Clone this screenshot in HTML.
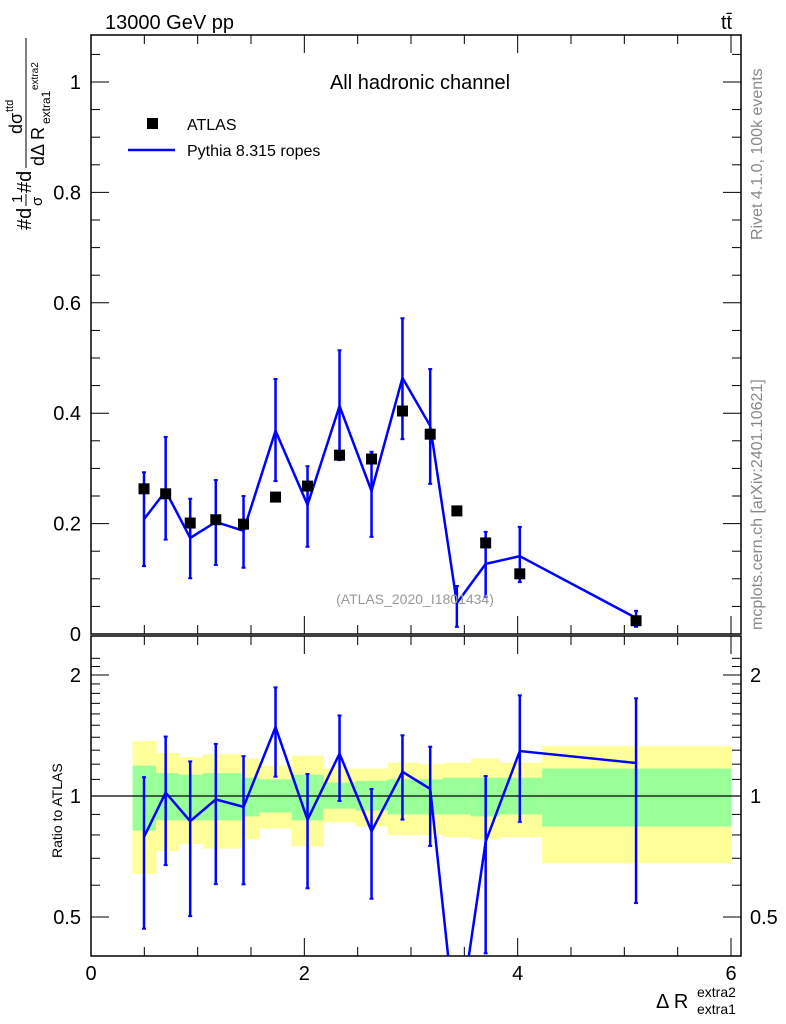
<!DOCTYPE html>
<html><head><meta charset="utf-8"><style>
html,body{margin:0;padding:0;background:#fff;width:786px;height:1024px;overflow:hidden}
svg{display:block}
svg text{font-family:"Liberation Sans",sans-serif}
</style></head><body>
<svg id="chart" width="786" height="1024" xmlns="http://www.w3.org/2000/svg">
<defs>
<clipPath id="cm"><rect x="91" y="35" width="650" height="599"/></clipPath>
<clipPath id="cr"><rect x="91" y="636" width="650" height="320"/></clipPath>
</defs>
<g id="bands" clip-path="url(#cr)"></g>
<g id="axes"></g>
<g id="marks"></g>
<text x="105" y="29" font-size="20">13000 GeV pp</text>
<text x="721" y="29" font-size="20">tt̄</text>
<text x="420" y="89" font-size="20" text-anchor="middle">All hadronic channel</text>
<rect x="147" y="118" width="11" height="11" fill="#000"/>
<text x="187" y="130" font-size="16">ATLAS</text>
<line x1="128" y1="150" x2="175" y2="150" stroke="#00f" stroke-width="2.5"/>
<text x="187" y="156" font-size="16">Pythia 8.315 ropes</text>
<text x="415" y="604" font-size="14" fill="#999" text-anchor="middle">(ATLAS_2020_I1801434)</text>
<text transform="translate(762,240) rotate(-90)" font-size="16" fill="#888">Rivet 4.1.0,  100k events</text>
<text transform="translate(762,630) rotate(-90)" font-size="16" fill="#888">mcplots.cern.ch [arXiv:2401.10621]</text>
<g transform="rotate(-90)">
<text x="-230" y="31" font-size="20">#d</text>
<text x="-203" y="22" font-size="15">1</text>
<line x1="-206" y1="26" x2="-194" y2="26" stroke="#000" stroke-width="1"/>
<text x="-206" y="42" font-size="15">σ</text>
<text x="-193" y="31" font-size="20">#d</text>
<line x1="-168" y1="26" x2="-38" y2="26" stroke="#000" stroke-width="1"/>
<text x="-134" y="22" font-size="18">dσ</text>
<text x="-112" y="13" font-size="11">ttd</text>
<text x="-166" y="44" font-size="18">dΔ R</text>
<text x="-124" y="50" font-size="12">extra1</text>
<text x="-90" y="38" font-size="10">extra2</text>
</g>
<text transform="translate(62,858) rotate(-90)" font-size="14">Ratio to ATLAS</text>
<text x="656" y="1008" font-size="20">Δ R</text>
<text x="697" y="997" font-size="14">extra2</text>
<text x="697" y="1014" font-size="14">extra1</text>
</svg>
<script>
const xs=[0.497,0.70,0.93,1.17,1.43,1.73,2.03,2.33,2.63,2.92,3.18,3.43,3.70,4.02,5.11];
const atlas=[0.263,0.254,0.201,0.207,0.199,0.248,0.268,0.324,0.317,0.404,0.362,0.223,0.165,0.109,0.024];
const mc=[0.208,0.259,0.174,0.203,0.187,0.368,0.234,0.413,0.259,0.464,0.377,0.056,0.127,0.141,0.029];
const mcHi=[0.293,0.357,0.245,0.279,0.25,0.462,0.304,0.514,0.33,0.572,0.48,0.087,0.185,0.194,0.042];
const mcLo=[0.123,0.171,0.101,0.125,0.12,0.277,0.158,0.315,0.176,0.353,0.272,0.013,0.067,0.094,0.013];
const edges=[0.39,0.61,0.82,1.05,1.41,1.58,1.88,2.18,2.48,2.78,3.08,3.30,3.56,3.83,4.23,6.0];
const yelHi=[1.37,1.28,1.25,1.27,1.24,1.19,1.26,1.17,1.17,1.21,1.20,1.21,1.24,1.21,1.33];
const yelLo=[0.64,0.73,0.76,0.74,0.78,0.83,0.75,0.86,0.84,0.80,0.80,0.79,0.78,0.79,0.68];
const grnHi=[1.19,1.14,1.13,1.14,1.11,1.10,1.13,1.08,1.09,1.10,1.10,1.11,1.11,1.11,1.17];
const grnLo=[0.82,0.87,0.87,0.87,0.89,0.91,0.87,0.93,0.92,0.90,0.90,0.90,0.89,0.90,0.84];
const xTicks=[0,2,4,6];
const yTicks=[0,0.2,0.4,0.6,0.8,1];
const rTicks=[0.5,1,2];

const NS="http://www.w3.org/2000/svg";
const X=v=>91+v*(640/6);
const Y=v=>634-v*552;
const R=v=>796-174.6*Math.log(v);
function mk(tag,attrs,parent){const e=document.createElementNS(NS,tag);for(const k in attrs)e.setAttribute(k,attrs[k]);parent.appendChild(e);return e;}
const bands=document.getElementById('bands'),axes=document.getElementById('axes'),marks=document.getElementById('marks');

for(let i=0;i<edges.length-1;i++){
  let r=mk('rect',{x:X(edges[i]),y:R(yelHi[i]),width:X(edges[i+1])-X(edges[i])+0.5,height:R(yelLo[i])-R(yelHi[i]),fill:'#ffff99'},bands);
  
  
  let g=mk('rect',{x:X(edges[i]),y:R(grnHi[i]),width:X(edges[i+1])-X(edges[i])+0.5,height:R(grnLo[i])-R(grnHi[i]),fill:'#99ff99'},bands);
  
  
}
mk('line',{x1:91,x2:741,y1:R(1),y2:R(1),stroke:'#000','stroke-width':1.2},bands);

mk('rect',{x:91,y:35,width:650,height:599,fill:'none',stroke:'#000','stroke-width':1.5},axes);
mk('rect',{x:91,y:636,width:650,height:320,fill:'none',stroke:'#000','stroke-width':1.5},axes);
for(let v=0;v<=6.001;v+=0.5){
  const maj=Math.abs(v-Math.round(v/2)*2)<1e-6, L=maj?18:9;
  [[634,-1],[35,1],[956,-1],[636,1]].forEach(([y0,d])=>mk('line',{x1:X(v),x2:X(v),y1:y0,y2:y0+d*L,stroke:'#000'},axes));
}
xTicks.forEach(v=>{const t=mk('text',{x:X(v),y:980,'font-size':20,'text-anchor':'middle'},axes);t.textContent=v;

});
for(let v=0;v<=1.08;v+=0.05){
  const maj=Math.abs(v*5-Math.round(v*5))<1e-6, L=maj?18:9;
  mk('line',{x1:91,x2:91+L,y1:Y(v),y2:Y(v),stroke:'#000'},axes);
  mk('line',{x1:741,x2:741-L,y1:Y(v),y2:Y(v),stroke:'#000'},axes);
}
yTicks.forEach(v=>{const t=mk('text',{x:81,y:Y(v)+7,'font-size':20,'text-anchor':'end'},axes);t.textContent=v===0?'0':(v===1?'1':v.toFixed(1));

});
const rminor=[0.4,0.5,0.6,0.7,0.8,0.9,1,1.1,1.2,1.3,1.4,1.5,1.6,1.7,1.8,1.9,2,2.1,2.2];
rminor.forEach(v=>{const yy=R(v);if(yy<636||yy>956)return;const L=rTicks.includes(v)?18:9;
  mk('line',{x1:91,x2:91+L,y1:yy,y2:yy,stroke:'#000'},axes);
  mk('line',{x1:741,x2:741-L,y1:yy,y2:yy,stroke:'#000'},axes);});
rTicks.forEach(v=>{[[81,'end'],[750,'start']].forEach(([x,a])=>{const t=mk('text',{x:x,y:R(v)+7,'font-size':20,'text-anchor':a},axes);t.textContent=v;

});});

const gm=mk('g',{'clip-path':'url(#cm)'},marks);
mk('polyline',{points:xs.map((x,i)=>X(x)+','+Y(mc[i])).join(' '),fill:'none',stroke:'#00f','stroke-width':2.5},gm);
xs.forEach((x,i)=>{
  const e=mk('line',{x1:X(x),x2:X(x),y1:Y(mcHi[i]),y2:Y(mcLo[i]),stroke:'#00f','stroke-width':2.5},gm);
  
  
  [mcHi[i],mcLo[i]].forEach(v=>mk('line',{x1:X(x)-2,x2:X(x)+2,y1:Y(v),y2:Y(v),stroke:'#00f','stroke-width':2},gm));
  const p=mk('rect',{x:X(x)-5.5,y:Y(atlas[i])-5.5,width:11,height:11,fill:'#000'},gm);
  
  
});
const gr=mk('g',{'clip-path':'url(#cr)'},marks);
mk('polyline',{points:xs.map((x,i)=>X(x)+','+R(mc[i]/atlas[i])).join(' '),fill:'none',stroke:'#00f','stroke-width':2.5},gr);
xs.forEach((x,i)=>{
  const e=mk('line',{x1:X(x),x2:X(x),y1:R(mcHi[i]/atlas[i]),y2:R(mcLo[i]/atlas[i]),stroke:'#00f','stroke-width':2.5},gr);
  
  
  [mcHi[i],mcLo[i]].forEach(v=>mk('line',{x1:X(x)-2,x2:X(x)+2,y1:R(v/atlas[i]),y2:R(v/atlas[i]),stroke:'#00f','stroke-width':2},gr));
});
</script>
</body></html>
